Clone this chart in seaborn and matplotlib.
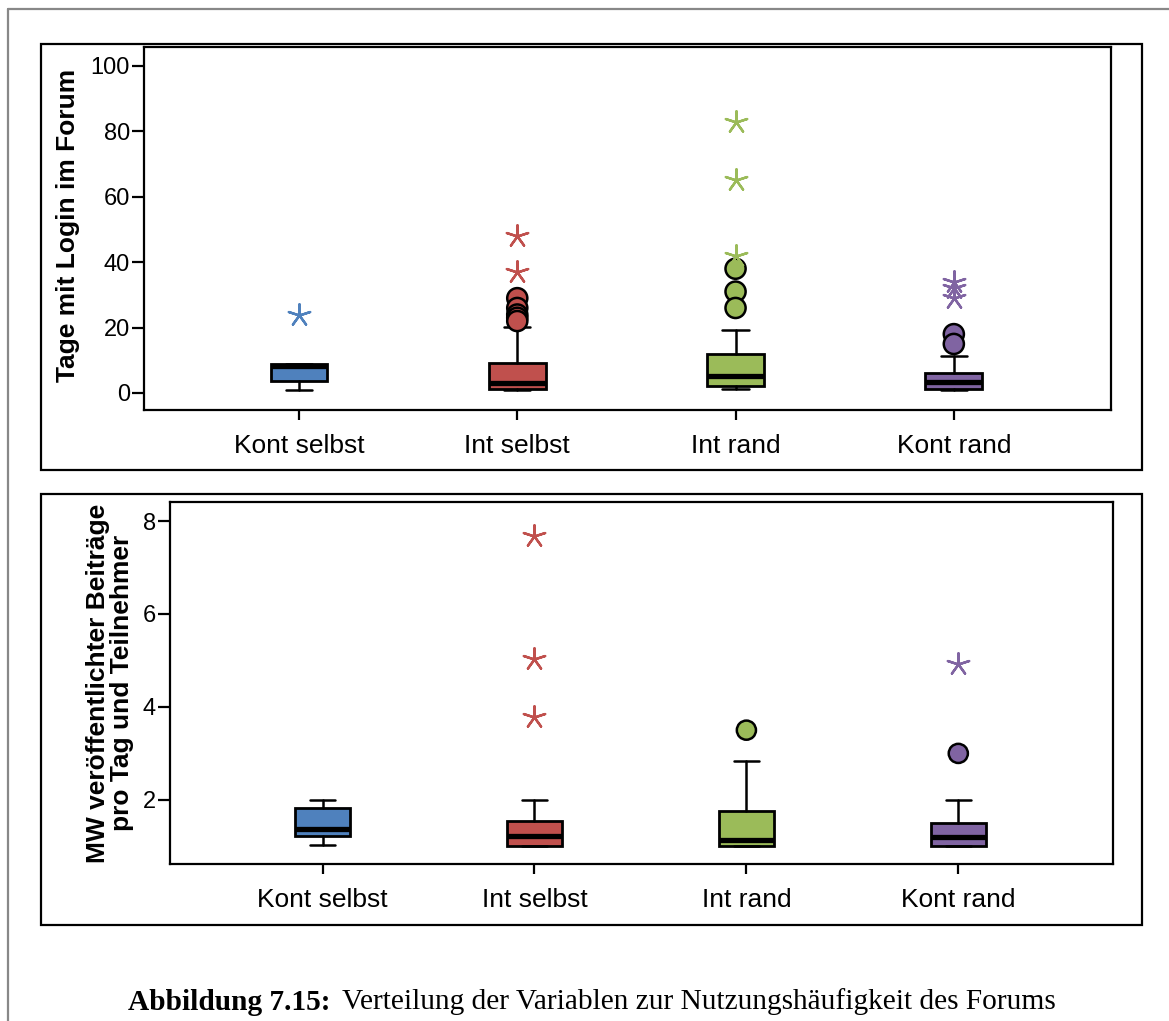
import numpy as np
import pandas as pd
import matplotlib
matplotlib.use("Agg")
import matplotlib.pyplot as plt
from matplotlib.patches import Rectangle
from matplotlib.lines import Line2D
import seaborn as sns

# ---------------- data ----------------
groups = ["Kont selbst", "Int selbst", "Int rand", "Kont rand"]
colors = ["#4F81BD", "#C0504D", "#9BBB59", "#8064A2"]

# Panel 1: Tage mit Login im Forum
login_whislo = [1, 1, 1.2, 1]
login_q1 = [3.6, 1.1, 2.1, 1.2]
login_med = [8.2, 3.1, 5.2, 3.3]
login_q3 = [8.8, 9.2, 11.8, 6.2]
login_whishi = [9.0, 20.3, 19.3, 11.2]
login_mild = [[], [29, 26, 24, 23, 22], [38, 31, 26], [18, 15]]
login_extreme = [[24], [48, 37], [83, 65, 42], [34, 32, 29]]

# Panel 2: MW veröffentlichter Beiträge pro Tag und Teilnehmer
posts_whislo = [1.02, 1.0, 1.0, 1.0]
posts_q1 = [1.23, 1.01, 1.01, 1.01]
posts_med = [1.38, 1.22, 1.14, 1.21]
posts_q3 = [1.82, 1.55, 1.76, 1.51]
posts_whishi = [2.0, 2.0, 2.83, 2.0]
posts_mild = [[], [], [3.5], [3.0]]
posts_extreme = [[], [7.67, 5.03, 3.78], [], [4.92]]

login_ticks = [0, 20, 40, 60, 80, 100]
posts_ticks = [2, 4, 6, 8]

# ---------------- style ----------------
sns.set_style("white")
plt.rcParams["font.family"] = ["Liberation Sans", "DejaVu Sans"]
plt.rcParams["text.color"] = "black"
plt.rcParams["xtick.color"] = "black"
plt.rcParams["ytick.color"] = "black"
plt.rcParams["axes.labelcolor"] = "black"

W, H = 1169, 1021
fig = plt.figure(figsize=(W / 100, H / 100), dpi=100)


def px_axes(x0, y0, x1, y1):
    return fig.add_axes([x0 / W, 1 - y1 / H, (x1 - x0) / W, (y1 - y0) / H])


def frame(x0, y0, x1, y1, color="black", lw=1.6):
    fig.patches.append(Rectangle((x0 / W, 1 - y1 / H), (x1 - x0) / W, (y1 - y0) / H,
                                 transform=fig.transFigure, fill=False,
                                 edgecolor=color, linewidth=lw, zorder=0))


def draw_panel(ax, whislo, q1, med, q3, whishi, mild, extreme, ticks, ylim, xlim,
               circ_size, star_size):
    stats = []
    for i, g in enumerate(groups):
        stats.append(dict(label=g, whislo=whislo[i], q1=q1[i], med=med[i],
                          q3=q3[i], whishi=whishi[i], fliers=[]))
    pos = list(range(len(groups)))
    bp = ax.bxp(stats, positions=pos, widths=0.26, capwidths=0.12,
                patch_artist=True, showfliers=False,
                boxprops=dict(linewidth=2.0, edgecolor="black"),
                medianprops=dict(color="black", linewidth=3.8, solid_capstyle="butt"),
                whiskerprops=dict(color="black", linewidth=1.8),
                capprops=dict(color="black", linewidth=1.8), manage_ticks=False)
    for patch, c in zip(bp["boxes"], colors):
        patch.set_facecolor(c)

    rows_m, rows_e = [], []
    for i, g in enumerate(groups):
        for v in mild[i]:
            rows_m.append(dict(group=g, pos=i, value=v))
        for v in extreme[i]:
            rows_e.append(dict(group=g, pos=i, value=v))
    pal = dict(zip(groups, colors))
    if rows_m:
        dm = pd.DataFrame(rows_m)
        sns.scatterplot(data=dm, x="pos", y="value", hue="group", palette=pal,
                        marker="o", s=circ_size, edgecolor="black", linewidth=1.8,
                        legend=False, ax=ax, zorder=5)
    if rows_e:
        de = pd.DataFrame(rows_e)
        for g, sub in de.groupby("group"):
            sns.scatterplot(data=sub, x="pos", y="value", color=pal[g],
                            marker=(5, 2, 0), s=star_size, linewidth=1.7,
                            legend=False, ax=ax, zorder=5)

    ax.set_xlim(*xlim)
    ax.set_ylim(*ylim)
    ax.set_xticks(pos)
    ax.set_xticklabels(groups, fontsize=19)
    ax.set_yticks(ticks)
    ax.set_yticklabels([str(t) for t in ticks], fontsize=17)
    ax.set_xlabel("")
    ax.set_ylabel("")
    ax.tick_params(axis="x", direction="out", length=7.5, width=1.6, color="black",
                   bottom=True, pad=10, labelcolor="black")
    ax.tick_params(axis="y", direction="out", length=9, width=1.6, color="black",
                   left=True, pad=1, labelcolor="black")
    for s in ax.spines.values():
        s.set_visible(True)
        s.set_color("black")
        s.set_linewidth(1.6)
    ax.set_facecolor("white")


# grey page border
fig.add_artist(Line2D([8 / W, 8 / W], [0, 1 - 9 / H], color="#888888", linewidth=1.6,
                      transform=fig.transFigure))
fig.add_artist(Line2D([8 / W, 1], [1 - 9 / H, 1 - 9 / H], color="#888888", linewidth=1.6,
                      transform=fig.transFigure))

# panel frames
frame(41, 44, 1142, 470)
frame(41, 494, 1142, 925)

ax1 = px_axes(144, 47, 1111, 410)
draw_panel(ax1, login_whislo, login_q1, login_med, login_q3, login_whishi,
           login_mild, login_extreme, login_ticks, (-5.2, 105.8), (-0.71, 3.72),
           circ_size=210, star_size=260)

ax2 = px_axes(170, 502, 1113, 864)
draw_panel(ax2, posts_whislo, posts_q1, posts_med, posts_q3, posts_whishi,
           posts_mild, posts_extreme, posts_ticks, (0.62, 8.41), (-0.72, 3.73),
           circ_size=190, star_size=260)

fig.text(68 / W, 1 - 225 / H, "Tage mit Login im Forum", rotation=90, ha="center",
         va="center", fontsize=19, fontweight="bold", color="black")
fig.text(110 / W, 1 - 683 / H, "MW veröffentlichter Beiträge\npro Tag und Teilnehmer",
         rotation=90, ha="center", va="center", fontsize=19, fontweight="bold",
         multialignment="center", linespacing=1.0, color="black")

# caption
cap_y = 1 - 1002 / H
t1 = fig.text(128 / W, cap_y, "Abbildung 7.15:", ha="left", va="center",
              fontsize=21.2, fontweight="bold", color="black",
              family=["Liberation Serif", "DejaVu Serif"])
fig.canvas.draw()
bb = t1.get_window_extent()
fig.text((bb.x1 + 11) / W, cap_y, "Verteilung der Variablen zur Nutzungshäufigkeit des Forums",
         ha="left", va="center", fontsize=21.2, color="black",
         family=["Liberation Serif", "DejaVu Serif"])

fig.savefig("out.png", dpi=100, facecolor="white")
